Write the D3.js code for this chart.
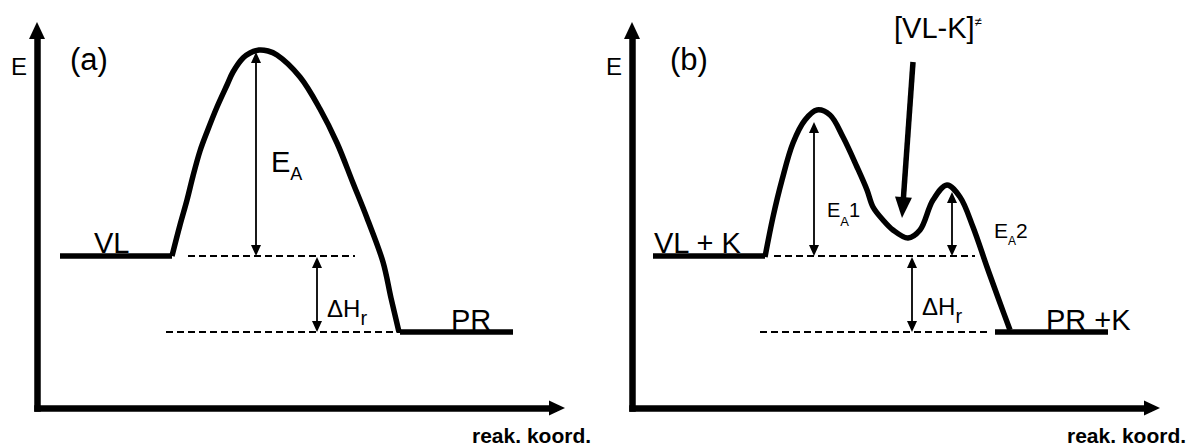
<!DOCTYPE html>
<html><head><meta charset="utf-8">
<script src="https://cdn.jsdelivr.net/npm/d3@7"></script>
<style>
html,body{margin:0;padding:0;background:#fff;}
svg{display:block;font-family:"Liberation Sans",Arial,Helvetica,sans-serif;}
</style>
</head><body>
<svg id="chart" width="1196" height="448"></svg>
<script>
// ---------------- DATA (arbitrary units: reaction coordinate, energy) ----------------
const axisMaxX = 528;          // length of reaction-coordinate axis
const axisMaxE = 386;          // height of energy axis
const E_reactant = 152;        // energy level of reactants
const E_product = 76;          // energy level of products

// Panel (a): uncatalysed reaction profile
const curveA_x = [135,143,150,156,163,170,180,190,196,206,213,222,231,240,263,283,300,316,330,346,354,362];
const curveA_E = [152,183,208,232,257,276,301,323,336,350,355,358,357,353,331,299,265,225,190,146,110,76];
const levelsA_x0 = [23, 363];
const levelsA_x1 = [135, 476];
const levelsA_E  = [E_reactant, E_product];
const dashA_x0 = [151, 129];
const dashA_x1 = [318, 363];
const dashA_E  = [E_reactant, E_product];
const arrowsA_x    = [219, 280];
const arrowsA_from = [E_reactant, E_reactant - 1];
const arrowsA_to   = [356, E_product];

// Panel (b): catalysed reaction profile (two barriers, intermediate)
const curveB_x = [133,141,150,161,173,185,198,211,225,235,241,251,261,276,288,301,315,328,341,355,368,378];
const curveB_E = [151,191,228,265,288,298,293,271,241,218,201,188,178,170,178,208,223,211,181,141,105,78];
const levelsB_x0 = [21, 363];
const levelsB_x1 = [133, 476];
const levelsB_E  = [E_reactant, E_product];
const dashB_x0 = [142, 128];
const dashB_x1 = [343, 356];
const dashB_E  = [E_reactant, E_product];
const arrowsB_x    = [182, 320, 280];
const arrowsB_from = [E_reactant, E_reactant, E_reactant - 1];
const arrowsB_to   = [286, 216, E_product];
const pointer_x = [281, 270];   // arrow to intermediate [VL-K]≠
const pointer_E = [346, 190];

// Texts
const panelTags = ["(a)", "(b)"];
const axisLabelY = "E";
const axisLabelX = "reak. koord.";
const levelTextA = ["VL", "PR"];
const levelTextB = ["VL + K", "PR +K"];
const intermediateText = ["[VL-K]", "≠"];

// ---------------- LAYOUT ----------------
const svg = d3.select("#chart");
const panelLeft = [37, 632];
const x = d3.scaleLinear().domain([0, axisMaxX]).range([0, axisMaxX]);
const y = d3.scaleLinear().domain([0, axisMaxE]).range([408, 22]);

function head(g, tx, ty, fx, fy, L, W) {
  const dx = tx - fx, dy = ty - fy, len = Math.hypot(dx, dy);
  const ux = dx / len, uy = dy / len, nx = -uy, ny = ux;
  const bx = tx - ux * L, by = ty - uy * L;
  g.append("path")
    .attr("d", `M${tx},${ty}L${bx + nx * W / 2},${by + ny * W / 2}L${bx - nx * W / 2},${by - ny * W / 2}Z`)
    .attr("fill", "#000");
}
function dblArrow(g, xv, e0, e1) {
  const px = x(xv), y0 = y(e0), y1 = y(e1);
  const L = 11, W = 10;
  const dir = y1 < y0 ? 1 : -1;
  g.append("line").attr("x1", px).attr("x2", px)
    .attr("y1", y0 - dir * (L - 2)).attr("y2", y1 + dir * (L - 2))
    .attr("stroke", "#000").attr("stroke-width", 1.8);
  head(g, px, y1, px, y0, L, W);
  head(g, px, y0, px, y1, L, W);
}
function label(g, px, py, parts, weight) {
  const t = g.append("text").attr("x", px).attr("y", py).attr("fill", "#000")
    .attr("font-weight", weight || "normal");
  parts.forEach(p => {
    t.append("tspan").attr("font-size", p[1]).attr("dy", p[2] || 0).text(p[0]);
  });
  return t;
}

function drawPanel(i, cx, cE, lx0, lx1, lE, dx0, dx1, dE, ax, af, at) {
  const g = svg.append("g").attr("transform", `translate(${panelLeft[i]},0)`);

  // axes (domain lines only) with arrowheads
  const xAxisScale = x.copy().range([x(0), x(axisMaxX) - 12]);
  const yAxisScale = y.copy().range([y(0), y(axisMaxE) + 12]);
  const ax1 = g.append("g").attr("transform", `translate(0,${y(0)})`)
    .call(d3.axisBottom(xAxisScale).ticks(0).tickSizeOuter(0));
  const ax2 = g.append("g")
    .call(d3.axisLeft(yAxisScale).ticks(0).tickSizeOuter(0));
  [ax1, ax2].forEach(a => a.select(".domain").attr("stroke", "#000")
    .attr("stroke-width", 6.5).attr("stroke-linecap", "square"));
  head(g, x(axisMaxX), y(0), x(0), y(0), 16, 15);
  head(g, x(0), y(axisMaxE), x(0), y(0), 17, 16);

  // dashed reference levels
  dE.forEach((e, k) => {
    g.append("line").attr("x1", x(dx0[k])).attr("x2", x(dx1[k]))
      .attr("y1", y(e)).attr("y2", y(e))
      .attr("stroke", "#000").attr("stroke-width", 2).attr("stroke-dasharray", "7,4");
  });

  // energy levels
  lE.forEach((e, k) => {
    g.append("line").attr("x1", x(lx0[k])).attr("x2", x(lx1[k]))
      .attr("y1", y(e)).attr("y2", y(e))
      .attr("stroke", "#000").attr("stroke-width", 5.5);
  });

  // reaction profile
  const pts = cx.map((v, k) => [v, cE[k]]);
  g.append("path").datum(pts)
    .attr("d", d3.line().x(d => x(d[0])).y(d => y(d[1])).curve(d3.curveCatmullRom.alpha(0.5)))
    .attr("fill", "none").attr("stroke", "#000").attr("stroke-width", 5.5)
    .attr("stroke-linejoin", "round");

  // energy arrows
  ax.forEach((v, k) => dblArrow(g, v, af[k], at[k]));

  // axis labels and tag
  label(g, x(-26), y(333), [[axisLabelY, 24]]);
  label(g, x(i === 0 ? 33 : 38), y(338), [[panelTags[i], 31]]);
  label(g, x(435), y(-35), [[axisLabelX, 21]], "bold");
  return g;
}

const gA = drawPanel(0, curveA_x, curveA_E, levelsA_x0, levelsA_x1, levelsA_E,
  dashA_x0, dashA_x1, dashA_E, arrowsA_x, arrowsA_from, arrowsA_to);
const gB = drawPanel(1, curveB_x, curveB_E, levelsB_x0, levelsB_x1, levelsB_E,
  dashB_x0, dashB_x1, dashB_E, arrowsB_x, arrowsB_from, arrowsB_to);

// Panel (a) annotations
label(gA, x(57), y(155), [[levelTextA[0], 29]]);
label(gA, x(414), y(78), [[levelTextA[1], 29]]);
label(gA, x(234), y(236), [["E", 29], ["A", 18, 8]]);
label(gA, x(290), y(91), [["ΔH", 24], ["r", 20, 8]]);

// Panel (b) annotations
label(gB, x(22), y(155), [[levelTextB[0], 29]]);
label(gB, x(414), y(78), [[levelTextB[1], 29]]);
label(gB, x(195), y(191), [["E", 20], ["A", 13, 9], ["1", 20, -9]]);
label(gB, x(362), y(170), [["E", 21], ["A", 12, 7], ["2", 21, -7]]);
label(gB, x(290), y(93), [["ΔH", 24], ["r", 20, 8]]);
label(gB, x(262), y(370), [[intermediateText[0], 29], [intermediateText[1], 13, -12]]);

// pointer arrow to intermediate
{
  const x0 = x(pointer_x[0]), y0 = y(pointer_E[0]), x1 = x(pointer_x[1]), y1 = y(pointer_E[1]);
  const L = 21, len = Math.hypot(x1 - x0, y1 - y0);
  gB.append("line").attr("x1", x0).attr("y1", y0)
    .attr("x2", x1 - (x1 - x0) / len * (L - 3)).attr("y2", y1 - (y1 - y0) / len * (L - 3))
    .attr("stroke", "#000").attr("stroke-width", 5.5);
  head(gB, x1, y1, x0, y0, L, 17);
}
</script>
</body></html>
